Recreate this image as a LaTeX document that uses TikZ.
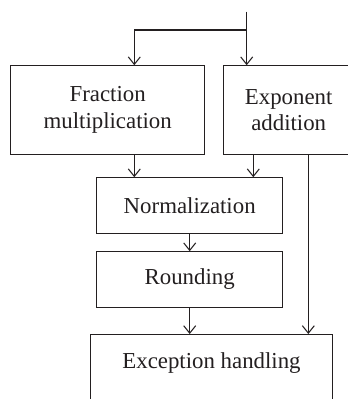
\documentclass[tikz,border=0pt]{standalone}
\usepackage{fontspec}
\setmainfont{Liberation Serif}
\usepackage{tikz}
\usetikzlibrary{arrows.meta,positioning,calc}
\definecolor{inkgray}{HTML}{231F20}
\tikzset{
  stagebox/.style={rectangle,draw=inkgray,line width=0.6pt,fill=white,align=center,text=inkgray,
    font=\fontsize{13}{15}\selectfont,inner sep=0pt},
  arr/.style={-{Straight Barb[length=1.5mm,width=2.4mm]},line width=0.6pt,draw=inkgray},
  line/.style={line width=0.6pt,draw=inkgray}
}
\begin{document}
\begin{tikzpicture}[x=0.02cm,y=-0.02cm]
  \clip (0,0) rectangle (348,399);
  \useasboundingbox (0,0) rectangle (348,399);
  \node[stagebox,minimum width=3.88cm,minimum height=1.77cm] (frac) at (107.7,110) {Fraction\\multiplication};
  \node[stagebox,minimum width=2.62cm,minimum height=1.77cm,anchor=west] (expo) at (222.7,110) {Exponent\\addition};
  \node[stagebox,minimum width=3.72cm,minimum height=1.11cm] (norm) at (189.7,205.5) {Normalization};
  \node[stagebox,minimum width=3.72cm,minimum height=1.11cm] (round) at (189.7,279.5) {Rounding};
  \node[stagebox,minimum width=4.83cm,text height=0.5cm,text depth=1cm,inner ysep=0.17cm,anchor=north] (exc) at (211.5,334) {Exception handling};
  \coordinate (in) at (246.7,11.7);
  \coordinate (split) at (246.7,30);
  \coordinate (fm) at (134.3,0);
  \coordinate (ea) at (253.3,0);
  \coordinate (eb) at (308.3,0);
  \draw[line] (in) -- (split);
  \draw[arr] (split) -- (split |- expo.north);
  \draw[arr] (split) -| (fm |- frac.north);
  \draw[arr] (fm |- frac.south) -- (fm |- norm.north);
  \draw[arr] (ea |- expo.south) -- (ea |- norm.north);
  \draw[arr] (eb |- expo.south) -- (eb |- exc.north);
  \draw[arr] (norm) -- (round);
  \draw[arr] (round.south) -- (round.south |- exc.north);
\end{tikzpicture}
\end{document}
